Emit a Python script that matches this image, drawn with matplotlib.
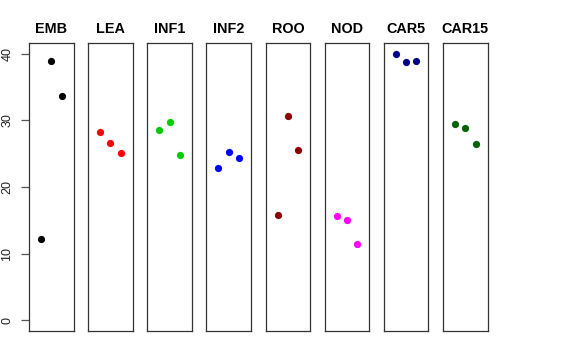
import matplotlib
matplotlib.use("Agg")
import matplotlib.pyplot as plt

plt.rcParams['font.family'] = ['Liberation Sans', 'DejaVu Sans']

groups = ["EMB", "LEA", "INF1", "INF2", "ROO", "NOD", "CAR5", "CAR15"]
colors = ["#000000", "#FF0000", "#00CD00", "#0000FF", "#8B0000", "#FF00FF", "#00008B", "#006400"]
values = {
    "EMB":   [12.2, 38.9, 33.7],
    "LEA":   [28.2, 26.55, 25.15],
    "INF1":  [28.6, 29.8, 24.8],
    "INF2":  [22.8, 25.3, 24.3],
    "ROO":   [15.75, 30.65, 25.5],
    "NOD":   [15.7, 15.0, 11.5],
    "CAR5":  [40.0, 38.8, 38.9],
    "CAR15": [29.5, 28.9, 26.45],
}
reps = [1, 2, 3]
yticks = [0, 10, 20, 30, 40]

W, H = 576, 360
fig = plt.figure(figsize=(W / 100, H / 100), dpi=100)

left0 = 29.0
step = 59.15
pw = 44.5
top = 43.0
bottom = 331.0

for i, (g, c) in enumerate(zip(groups, colors)):
    l = left0 + i * step
    ax = fig.add_axes([l / W, 1 - bottom / H, pw / W, (bottom - top) / H])
    ax.plot(reps, values[g], linestyle='none', marker='o', markersize=5.2,
            color=c, markeredgewidth=0)
    ax.set_xlim(-0.16, 4.16)
    ax.set_ylim(-1.6, 41.6)
    ax.set_xticks([])
    for s in ax.spines.values():
        s.set_color('#333333')
        s.set_linewidth(0.9)
    ax.set_title(g, fontsize=10.4, fontweight='bold', pad=7)
    if i == 0:
        ax.set_yticks(yticks)
        ax.set_yticklabels([str(t) for t in yticks], rotation=90, va='center')
        ax.tick_params(axis='y', length=5.8, width=0.9, color='#555555',
                       labelsize=9, pad=5.5, labelcolor='#222222')
    else:
        ax.set_yticks([])

fig.savefig("out.png", dpi=100)
